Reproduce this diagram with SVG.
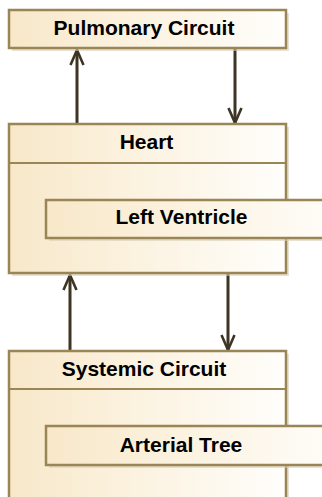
<svg xmlns="http://www.w3.org/2000/svg" width="322" height="497" viewBox="0 0 322 497">
<defs>
<linearGradient id="g" x1="0" y1="0" x2="1" y2="0">
<stop offset="0" stop-color="#f8e8c9"/>
<stop offset="1" stop-color="#fffefb"/>
</linearGradient>
<marker id="arr" markerUnits="userSpaceOnUse" markerWidth="24" markerHeight="24" viewBox="-20 -12 24 24" refX="0" refY="0" orient="auto" overflow="visible">
<path d="M-15,-6.5 L0,0 L-15,6.5" fill="none" stroke="#3d3424" stroke-width="2.6"/>
</marker>
</defs>
<style>
.box{fill:url(#g);stroke:#9a8556;stroke-width:2.5}
.sh{fill:#d9cfb8;opacity:0.6}
.div{stroke:#9a8556;stroke-width:2}
.t{font-family:"Liberation Sans",Arial,sans-serif;font-weight:bold;font-size:21px;fill:#000;text-anchor:middle}
.c{stroke:#3d3424;stroke-width:3;fill:none;marker-end:url(#arr)}
</style>
<g id="connectors">
<line class="c" x1="77" y1="124" x2="77" y2="50"/>
<line class="c" x1="235" y1="49" x2="235" y2="123"/>
<line class="c" x1="70" y1="351" x2="70" y2="275"/>
<line class="c" x1="228" y1="274" x2="228" y2="350"/>
</g>
<g id="pulmonary">
<rect class="sh" x="12" y="13" width="277" height="38"/>
<rect class="box" x="9" y="10" width="277" height="38"/>
<text class="t" x="144" y="35">Pulmonary Circuit</text>
</g>
<g id="heart">
<rect class="sh" x="12" y="127" width="277" height="149"/>
<rect class="box" x="9" y="124" width="277" height="149"/>
<line class="div" x1="9" y1="163" x2="285" y2="163"/>
<text class="t" x="146.5" y="149">Heart</text>
</g>
<g id="left-ventricle">
<rect class="sh" x="49" y="203" width="300" height="38"/>
<rect class="box" x="46" y="200" width="300" height="38"/>
<text class="t" x="181.5" y="224">Left Ventricle</text>
</g>
<g id="systemic">
<rect class="sh" x="12" y="354" width="277" height="160"/>
<rect class="box" x="9" y="351" width="277" height="160"/>
<line class="div" x1="9" y1="389" x2="285" y2="389"/>
<text class="t" x="144" y="376">Systemic Circuit</text>
</g>
<g id="arterial-tree">
<rect class="sh" x="49" y="429" width="300" height="39"/>
<rect class="box" x="46" y="426" width="300" height="39"/>
<text class="t" x="181" y="452">Arterial Tree</text>
</g>
</svg>
